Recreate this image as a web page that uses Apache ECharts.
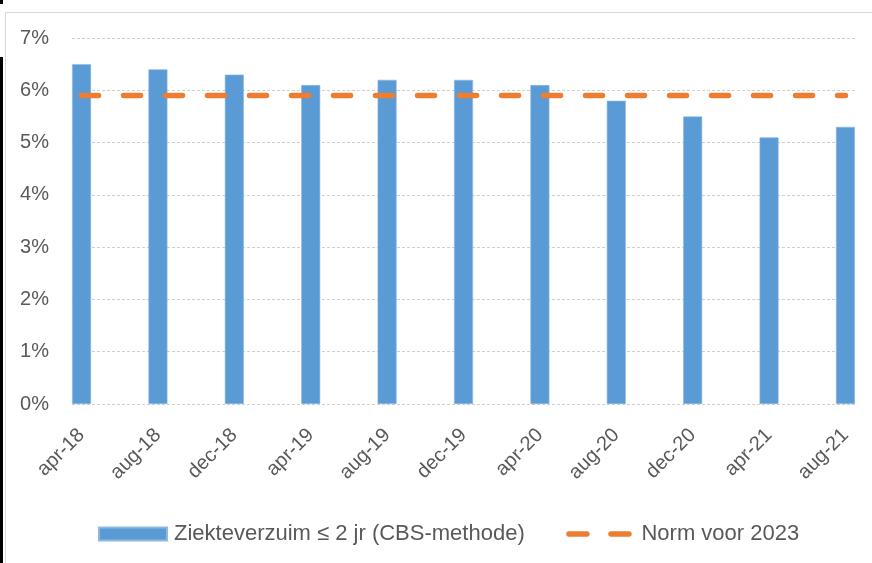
<!DOCTYPE html>
<html>
<head>
<meta charset="utf-8">
<script src="https://cdn.jsdelivr.net/npm/echarts@6/dist/echarts.min.js"></script>
<style>html,body{margin:0;padding:0;background:#fff}#c{width:872px;height:563px}</style>
</head>
<body>
<div id="c"></div>
<script>
// Data
var categories = ['apr-18','aug-18','dec-18','apr-19','aug-19','dec-19','apr-20','aug-20','dec-20','apr-21','aug-21'];
var monthOffsets = [0,4,8,12,16,20,24,28,32,36,40]; // months since apr-18
var verzuim = [6.5, 6.4, 6.3, 6.1, 6.2, 6.2, 6.1, 5.8, 5.5, 5.1, 5.3];
var norm = [5.9, 5.9, 5.9, 5.9, 5.9, 5.9, 5.9, 5.9, 5.9, 5.9, 5.9];

var FONT = '"Liberation Sans", Arial, sans-serif';
var TXT = '#595959';

var barData = monthOffsets.map(function(m,i){ return [m, verzuim[i]]; });
var normData = monthOffsets.map(function(m,i){ return [m, norm[i]]; });

var chart = echarts.init(document.getElementById('c'));
chart.setOption({
  animation: false,
  textStyle: { fontFamily: FONT },
  graphic: [
    { type: 'rect', shape: { x: 5.5, y: 12.5, width: 900, height: 600 }, style: { fill: 'none', stroke: '#d9d9d9', lineWidth: 1 }, z: -1 },
    { type: 'rect', shape: { x: 0, y: 57, width: 3, height: 506 }, style: { fill: '#000' } },
    { type: 'rect', shape: { x: 0, y: 0, width: 3, height: 4 }, style: { fill: '#000' } }
  ],
  grid: { left: 72, right: 17, top: 38, bottom: 159, containLabel: false },
  xAxis: {
    type: 'value',
    min: -0.5, max: 40.5,
    splitLine: { show: false },
    axisLine: { show: false },
    axisTick: { show: false },
    axisLabel: {
      customValues: monthOffsets,
      rotate: 45,
      margin: 28,
      fontSize: 20,
      color: TXT,
      fontFamily: FONT,
      formatter: function(v){ var i = monthOffsets.indexOf(v); return i >= 0 ? categories[i] : ''; }
    }
  },
  yAxis: {
    type: 'value',
    min: 0, max: 7, interval: 1,
    axisLine: { show: false },
    axisTick: { show: false },
    splitLine: { lineStyle: { color: '#d0d0d0', type: [3, 2], width: 1 } },
    axisLabel: {
      margin: 23,
      fontSize: 20,
      color: TXT,
      fontFamily: FONT,
      formatter: function(v){ return v + '%'; }
    }
  },
  legend: {
    left: 98, top: 523, padding: 0,
    itemWidth: 68, itemHeight: 13,
    itemGap: 39,
    textStyle: { fontSize: 22, color: TXT, fontFamily: FONT, padding: [0,0,0,2] },
    data: [
      { name: 'Ziekteverzuim ≤ 2 jr (CBS-methode)', icon: 'rect' },
      { name: 'Norm voor 2023',
        itemStyle: { opacity: 0 },
        lineStyle: { color: '#ED7D31', width: 5.5, type: [18, 24], cap: 'round', dashOffset: -2.5 } }
    ]
  },
  series: [
    {
      name: 'Ziekteverzuim ≤ 2 jr (CBS-methode)',
      type: 'bar',
      barWidth: 19,
      data: barData,
      itemStyle: { color: '#5B9BD5', borderColor: '#8DB9E4', borderWidth: 0.6 }
    },
    {
      name: 'Norm voor 2023',
      type: 'line',
      data: normData,
      symbol: 'none',
      z: 3,
      lineStyle: { color: '#ED7D31', width: 5.5, type: [17, 25], cap: 'round' },
      itemStyle: { color: '#ED7D31' }
    }
  ]
});
</script>
</body>
</html>
